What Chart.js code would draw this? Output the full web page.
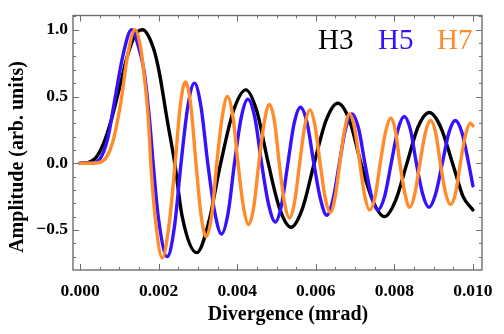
<!DOCTYPE html>
<html>
<head>
<meta charset="utf-8">
<script src="https://cdn.jsdelivr.net/npm/chart.js@4/dist/chart.umd.min.js"></script>
<style>
  html, body { margin: 0; padding: 0; background: #fff; }
  canvas { display: block; }
</style>
</head>
<body>
<canvas id="chart" width="504" height="334"></canvas>
<script>
// data (x in mrad)
const h3X = [0, 0.0002, 0.0004, 0.0006, 0.0008, 0.0010, 0.0012, 0.0014, 0.00159, 0.00187, 0.00201, 0.00222, 0.00241,
    0.0026, 0.00297, 0.00331, 0.00343, 0.00358, 0.0039, 0.00422, 0.0045, 0.00479, 0.00508, 0.00537, 0.00566, 0.00596,
    0.00626, 0.00656, 0.00686, 0.00715, 0.00745, 0.00775, 0.00803, 0.00832, 0.0086, 0.00889, 0.00918, 0.00948, 0.00975, 0.0100];
const h3Y = [0, 0.005, 0.04, 0.15, 0.33, 0.56, 0.80, 0.96, 1.0, 0.86, 0.69, 0.32, 0,
    -0.40, -0.67, -0.40, -0.22, 0, 0.39, 0.55, 0.39, 0, -0.34, -0.48, -0.34, 0,
    0.32, 0.45, 0.32, 0, -0.28, -0.40, -0.28, 0, 0.27, 0.38, 0.27, 0, -0.25, -0.35];

const h5X = [0, 0.0003, 0.0005, 0.0007, 0.00088, 0.0011, 0.00131, 0.0015, 0.00163, 0.00177, 0.00186, 0.00199, 0.00222,
    0.0024, 0.00257, 0.00274, 0.00291, 0.00308, 0.00325, 0.00343, 0.0036, 0.00377, 0.00393, 0.0041, 0.00427, 0.00445,
    0.00462, 0.0048, 0.00497, 0.00513, 0.00529, 0.00545, 0.00561, 0.00578, 0.00595, 0.00612, 0.00628, 0.00644, 0.0066,
    0.00676, 0.00692, 0.00709, 0.00725, 0.00742, 0.00758, 0.00775, 0.00792, 0.00809, 0.00825, 0.00841, 0.00856, 0.00872,
    0.00888, 0.00905, 0.00922, 0.00939, 0.00955, 0.00972, 0.00989, 0.0100];
const h5Y = [0, 0.003, 0.03, 0.18, 0.47, 0.82, 1.0, 0.86, 0.69, 0.32, 0, -0.40, -0.70,
    -0.48, 0, 0.42, 0.60, 0.42, 0, -0.37, -0.53, -0.37, 0, 0.34, 0.48, 0.34,
    0, -0.31, -0.44, -0.31, 0, 0.30, 0.42, 0.30, 0, -0.27, -0.39, -0.27, 0,
    0.26, 0.37, 0.26, 0, -0.25, -0.35, -0.25, 0, 0.25, 0.35, 0.25, 0, -0.23,
    -0.33, -0.23, 0, 0.23, 0.32, 0.23, 0, -0.17];

const h7X = [0, 0.0004, 0.0006, 0.00075, 0.00086, 0.00105, 0.00121, 0.0014, 0.00152, 0.00162, 0.00174, 0.0018, 0.00191,
    0.00209, 0.00227, 0.00242, 0.00255, 0.00268, 0.00282, 0.00295, 0.00308, 0.00321, 0.00335, 0.00348, 0.00362, 0.00375,
    0.00389, 0.00402, 0.00416, 0.00429, 0.00442, 0.00455, 0.00469, 0.00482, 0.00495, 0.00507, 0.0052, 0.00533, 0.00546,
    0.00559, 0.00572, 0.00585, 0.00598, 0.00611, 0.00624, 0.00637, 0.00649, 0.00661, 0.00674, 0.00686, 0.00699, 0.00712,
    0.00725, 0.00737, 0.00751, 0.00764, 0.00778, 0.00791, 0.00803, 0.00814, 0.00827, 0.00839, 0.00852, 0.00865, 0.00879,
    0.00892, 0.00905, 0.00917, 0.0093, 0.00943, 0.00956, 0.00968, 0.00981, 0.00993, 0.0100];
const h7Y = [0, 0.002, 0.02, 0.09, 0.19, 0.48, 0.81, 1.0, 0.90, 0.69, 0.32, 0, -0.40,
    -0.71, -0.45, 0, 0.43, 0.61, 0.43, 0, -0.39, -0.55, -0.39, 0, 0.35, 0.50,
    0.35, 0, -0.33, -0.46, -0.33, 0, 0.31, 0.44, 0.31, 0, -0.29, -0.41, -0.29,
    0, 0.28, 0.40, 0.28, 0, -0.26, -0.37, -0.26, 0, 0.26, 0.37, 0.26, 0,
    -0.25, -0.35, -0.25, 0, 0.24, 0.34, 0.24, 0, -0.23, -0.33, -0.23, 0, 0.23,
    0.32, 0.23, 0, -0.22, -0.31, -0.22, 0, 0.21, 0.30, 0.28];

const xTicks = [0, 0.002, 0.004, 0.006, 0.008, 0.010];
const yTicks = [-0.5, 0, 0.5, 1.0];
const seriesNames = ["H3", "H5", "H7"];
const seriesColors = ["#000000", "#3512ff", "#ff8b2b"];

const serif = "'Liberation Serif', 'DejaVu Serif', serif";

function pts(xs, ys) {
    return xs.map((x, i) => ({ x: x, y: ys[i] }));
}

// frame, inward ticks, titles, text legend
const decor = {
    id: 'decor',
    afterDraw(chart) {
        const ctx = chart.ctx;
        const a = chart.chartArea;
        const xs = chart.scales.x, ys = chart.scales.y;
        ctx.save();
        ctx.strokeStyle = "#6e6e6e";
        ctx.lineWidth = 1.4;
        ctx.strokeRect(a.left, a.top, a.right - a.left, a.bottom - a.top);

        ctx.lineWidth = 1;
        ctx.beginPath();
        for (let i = 0; i <= 20; i++) {
            let v = i * 0.0005;
            let px = Math.round(xs.getPixelForValue(v)) + 0.5;
            let len = (i % 4 === 0) ? 6 : 3;
            ctx.moveTo(px, a.bottom); ctx.lineTo(px, a.bottom - len);
            ctx.moveTo(px, a.top); ctx.lineTo(px, a.top + len);
        }
        for (let i = -7; i <= 11; i++) {
            let v = i * 0.1;
            let py = Math.round(ys.getPixelForValue(v)) + 0.5;
            let len = (i % 5 === 0) ? 6 : 3;
            ctx.moveTo(a.left, py); ctx.lineTo(a.left + len, py);
            ctx.moveTo(a.right, py); ctx.lineTo(a.right - len, py);
        }
        ctx.stroke();

        // axis titles
        ctx.fillStyle = "#000";
        ctx.font = "bold 20px " + serif;
        ctx.textAlign = "center";
        ctx.textBaseline = "middle";
        ctx.fillText("Divergence (mrad)", 288, 315);
        ctx.save();
        ctx.translate(18, 157);
        ctx.rotate(-Math.PI / 2);
        ctx.fillText("Amplitude (arb. units)", 0, 0);
        ctx.restore();

        // legend text
        ctx.font = "29px " + serif;
        ctx.textAlign = "left";
        ctx.textBaseline = "alphabetic";
        const lx = [318, 378, 437];
        seriesNames.forEach((n, i) => {
            ctx.fillStyle = seriesColors[i];
            ctx.fillText(n, lx[i], 49);
        });
        ctx.restore();
    }
};

new Chart(document.getElementById("chart"), {
    type: 'line',
    data: {
        datasets: [
            { label: seriesNames[0], data: pts(h3X, h3Y), borderColor: seriesColors[0], order: 2 },
            { label: seriesNames[1], data: pts(h5X, h5Y), borderColor: seriesColors[1], order: 1 },
            { label: seriesNames[2], data: pts(h7X, h7Y), borderColor: seriesColors[2], order: 0 }
        ]
    },
    options: {
        responsive: false,
        animation: false,
        devicePixelRatio: 1,
        layout: { padding: { left: 0, right: 17, top: 14, bottom: 0 } },
        elements: {
            line: { borderWidth: 3.4, cubicInterpolationMode: 'monotone', fill: false, borderJoinStyle: 'round', borderCapStyle: 'round' },
            point: { radius: 0 }
        },
        plugins: { legend: { display: false }, tooltip: { enabled: false } },
        scales: {
            x: {
                type: 'linear',
                min: -0.00018,
                max: 0.01023,
                afterBuildTicks: s => { s.ticks = xTicks.map(v => ({ value: v })); },
                afterFit: s => { s.height = 64; },
                grid: { display: false, drawTicks: false },
                border: { display: false },
                ticks: {
                    padding: 11,
                    color: "#000",
                    font: { family: serif, size: 17.5, weight: 'bold' },
                    callback: v => v.toFixed(3)
                }
            },
            y: {
                type: 'linear',
                min: -0.8,
                max: 1.107,
                afterBuildTicks: s => { s.ticks = yTicks.map(v => ({ value: v })); },
                afterFit: s => { s.width = 73; },
                grid: { display: false, drawTicks: false },
                border: { display: false },
                ticks: {
                    padding: 5,
                    color: "#000",
                    font: { family: serif, size: 17.5, weight: 'bold' },
                    callback: v => v < 0 ? "\u2212" + Math.abs(v).toFixed(1) : v.toFixed(1)
                }
            }
        }
    },
    plugins: [decor]
});
</script>
</body>
</html>
